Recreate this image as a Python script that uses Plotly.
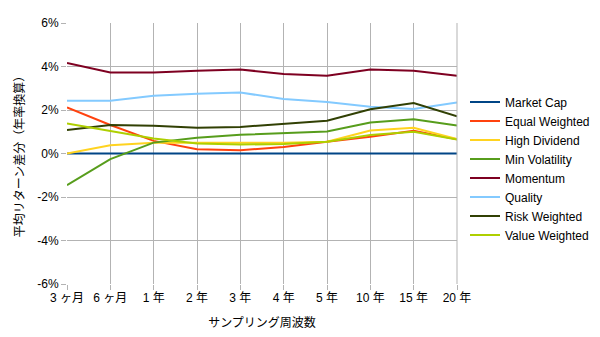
import plotly.graph_objects as go

categories = ["3 ヶ月", "6 ヶ月", "1 年", "2 年", "3 年", "4 年", "5 年", "10 年", "15 年", "20 年"]

market_cap = [0, 0, 0, 0, 0, 0, 0, 0, 0, 0]
equal_weighted = [2.12, 1.31, 0.58, 0.20, 0.15, 0.30, 0.54, 0.77, 1.04, 0.65]
high_dividend = [0.0, 0.38, 0.49, 0.50, 0.50, 0.49, 0.54, 1.06, 1.18, 0.67]
min_volatility = [-1.46, -0.26, 0.50, 0.72, 0.86, 0.92, 1.01, 1.43, 1.58, 1.29]
momentum = [4.16, 3.72, 3.72, 3.81, 3.86, 3.66, 3.58, 3.86, 3.80, 3.58]
quality = [2.43, 2.43, 2.65, 2.75, 2.80, 2.51, 2.37, 2.15, 2.05, 2.34]
risk_weighted = [1.08, 1.31, 1.28, 1.18, 1.22, 1.35, 1.51, 2.03, 2.32, 1.71]
value_weighted = [1.38, 1.04, 0.69, 0.46, 0.41, 0.44, 0.54, 0.85, 1.00, 0.64]

series_names = ["Market Cap", "Equal Weighted", "High Dividend", "Min Volatility",
                "Momentum", "Quality", "Risk Weighted", "Value Weighted"]
series_values = [market_cap, equal_weighted, high_dividend, min_volatility,
                 momentum, quality, risk_weighted, value_weighted]
colors = ["#004586", "#ff420e", "#ffd320", "#579d1c", "#7e0021", "#83caff", "#314004", "#aecf00"]

y_tickvals = [-6, -4, -2, 0, 2, 4, 6]
y_ticktext = ["-6%", "-4%", "-2%", "0%", "2%", "4%", "6%"]

fig = go.Figure()
for name, vals, col in zip(series_names, series_values, colors):
    fig.add_trace(go.Scatter(x=categories, y=vals, name=name, mode="lines",
                             line=dict(color=col, width=2)))

font_family = "Liberation Sans, Arial, Noto Sans CJK JP, sans-serif"
fig.update_layout(
    width=600, height=337,
    margin=dict(l=67, r=143, t=23, b=53),
    paper_bgcolor="white", plot_bgcolor="white",
    font=dict(family=font_family, size=12, color="black"),
    legend=dict(xref="container", yref="container", x=0.775, y=0.5,
                xanchor="left", yanchor="middle",
                font=dict(size=12), tracegroupgap=0, bgcolor="rgba(0,0,0,0)"),
    xaxis=dict(type="category", range=[0, 9], showgrid=True, gridcolor="#b3b3b3",
               gridwidth=1, ticks="outside", ticklen=5, tickcolor="#b3b3b3",
               zeroline=False, showline=False, automargin=False, ticklabelstandoff=-2,
               title=dict(text="サンプリング周波数", standoff=14, font=dict(size=12))),
    yaxis=dict(range=[-6, 6], tickvals=y_tickvals, ticktext=y_ticktext,
               showgrid=True, gridcolor="#b3b3b3", gridwidth=1,
               ticks="outside", ticklen=5, tickcolor="#b3b3b3",
               zeroline=False, showline=False, automargin=False,
               title=dict(text="平均リターン差分（年率換算）", standoff=10, font=dict(size=12))),
)
fig.add_shape(type="line", xref="paper", yref="paper", x0=1, x1=1, y0=0, y1=1,
              line=dict(color="#b3b3b3", width=1))
fig.write_html("out.html")
